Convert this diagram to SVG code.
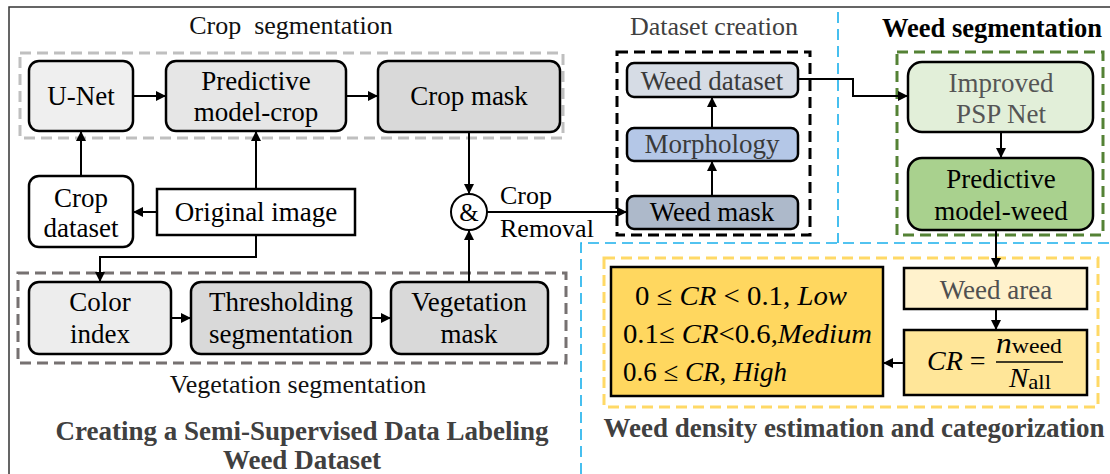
<svg xmlns="http://www.w3.org/2000/svg" width="1110" height="474" viewBox="0 0 1110 474">
  <style>
    text { font-family: "Liberation Serif", "Times New Roman", serif; }
    .lbl { font-size: 27px; fill: #000; text-anchor: middle; }
    .lblg { font-size: 27px; fill: #3a3a3a; text-anchor: middle; }
    .title { font-size: 26px; fill: #111; text-anchor: middle; }
    .titleb { font-size: 27px; font-weight: bold; fill: #404040; text-anchor: middle; }
    .node { stroke: #000; stroke-width: 2.5; }
    .sq { stroke: #000; stroke-width: 2.5; }
    .math { font-size: 27px; fill: #000; }
    .it { font-style: italic; }
    .conn { fill: none; stroke: #000; stroke-width: 2; }
    .dash { fill: none; stroke-width: 3; stroke-dasharray: 11 6; }
    .blue { fill: none; stroke: #1ab0ec; stroke-width: 1.6; stroke-dasharray: 11 6; }
  </style>
  <defs>
    <marker id="arr" viewBox="0 0 10 10" refX="10" refY="5" markerWidth="5" markerHeight="5" markerUnits="strokeWidth" orient="auto">
      <path d="M0,0 L10,5 L0,10 z" fill="#000"/>
    </marker>
  </defs>

  <rect width="1110" height="474" fill="#fff"/>

  <!-- frame -->
  <polyline points="9,474 9,7 1110,7" fill="none" stroke="#333" stroke-width="1.5"/>

  <!-- section dividers -->
  <g id="dividers">
    <line class="blue" x1="838" y1="12" x2="838" y2="243"/>
    <polyline class="blue" points="581,474 581,243 1110,243"/>
  </g>

  <!-- group frames -->
  <g id="frames">
    <rect class="dash" x="20" y="53" width="543" height="85" stroke="#bfbfbf"/>
    <rect class="dash" x="18" y="273" width="548" height="90" stroke="#767171"/>
    <rect class="dash" x="617" y="52" width="193" height="183" stroke="#000"/>
    <rect class="dash" x="897" y="52" width="206" height="183" stroke="#548235"/>
    <rect class="dash" x="604" y="258" width="494" height="149" stroke="#ffd966"/>
  </g>

  <!-- section titles -->
  <g id="titles">
    <text class="title" x="291" y="34">Crop&#160; segmentation</text>
    <text class="title" x="714" y="35" style="fill:#404040">Dataset creation</text>
    <text x="992" y="37" style="font-size:26.5px;font-weight:bold;text-anchor:middle;fill:#000">Weed segmentation</text>
    <text class="title" x="298" y="393">Vegetation segmentation</text>
    <text class="titleb" x="302" y="440">Creating a Semi-Supervised Data Labeling</text>
    <text class="titleb" x="302" y="469">Weed Dataset</text>
    <text class="titleb" x="854" y="437">Weed density estimation and categorization</text>
  </g>

  <!-- connectors -->
  <g id="connectors">
    <line class="conn" x1="133" y1="96" x2="166" y2="96" marker-end="url(#arr)"/>
    <line class="conn" x1="346" y1="96" x2="378" y2="96" marker-end="url(#arr)"/>
    <line class="conn" x1="81" y1="176" x2="81" y2="131" marker-end="url(#arr)"/>
    <line class="conn" x1="256" y1="189" x2="256" y2="131" marker-end="url(#arr)"/>
    <line class="conn" x1="157" y1="212" x2="133" y2="212" marker-end="url(#arr)"/>
    <polyline class="conn" points="256,235 256,257 100,257 100,282" marker-end="url(#arr)"/>
    <line class="conn" x1="171" y1="318" x2="191" y2="318" marker-end="url(#arr)"/>
    <line class="conn" x1="371" y1="318" x2="391" y2="318" marker-end="url(#arr)"/>
    <line class="conn" x1="469" y1="282" x2="469" y2="230" marker-end="url(#arr)"/>
    <line class="conn" x1="469" y1="132" x2="469" y2="194" marker-end="url(#arr)"/>
    <line class="conn" x1="487" y1="212" x2="627" y2="212" marker-end="url(#arr)"/>
    <line class="conn" x1="712" y1="196" x2="712" y2="161" marker-end="url(#arr)"/>
    <line class="conn" x1="712" y1="128" x2="712" y2="97" marker-end="url(#arr)"/>
    <polyline class="conn" points="798,79 853,79 853,96 908,96" marker-end="url(#arr)"/>
    <line class="conn" x1="1001" y1="132" x2="1001" y2="158" marker-end="url(#arr)"/>
    <line class="conn" x1="996" y1="230" x2="996" y2="268" marker-end="url(#arr)"/>
    <line class="conn" x1="996" y1="309" x2="996" y2="330" marker-end="url(#arr)"/>
    <line class="conn" x1="904" y1="363" x2="883" y2="363" marker-end="url(#arr)"/>
    <text x="500" y="204" style="font-size:26px">Crop</text>
    <text x="500" y="237" style="font-size:26px">Removal</text>
  </g>

  <!-- crop segmentation -->
  <g id="unet">
    <rect class="node" x="29" y="61" width="104" height="70" rx="10" fill="#efefef"/>
    <text class="lbl" x="81" y="105">U-Net</text>
  </g>
  <g id="predictive-crop">
    <rect class="node" x="166" y="61" width="180" height="70" rx="10" fill="#e6e6e6"/>
    <text class="lbl" x="256" y="90">Predictive</text>
    <text class="lbl" x="256" y="121">model-crop</text>
  </g>
  <g id="crop-mask">
    <rect class="node" x="378" y="61" width="182" height="71" rx="10" fill="#d9d9d9"/>
    <text class="lbl" x="469" y="105">Crop mask</text>
  </g>
  <g id="crop-dataset">
    <rect class="node" x="29" y="176" width="104" height="71" rx="10" fill="#fff"/>
    <text class="lbl" x="81" y="207">Crop</text>
    <text class="lbl" x="81" y="237">dataset</text>
  </g>
  <g id="original-image">
    <rect class="sq" x="157" y="189" width="198" height="46" fill="#fff"/>
    <text class="lbl" x="256" y="221">Original image</text>
  </g>

  <!-- vegetation segmentation -->
  <g id="color-index">
    <rect class="node" x="29" y="282" width="142" height="72" rx="10" fill="#ededed"/>
    <text class="lbl" x="100" y="311">Color</text>
    <text class="lbl" x="100" y="343">index</text>
  </g>
  <g id="thresholding">
    <rect class="node" x="191" y="282" width="180" height="72" rx="10" fill="#d9d9d9"/>
    <text class="lbl" x="281" y="311">Thresholding</text>
    <text class="lbl" x="281" y="343">segmentation</text>
  </g>
  <g id="vegetation-mask">
    <rect class="node" x="391" y="282" width="157" height="72" rx="10" fill="#d9d9d9"/>
    <text class="lbl" x="469" y="311">Vegetation</text>
    <text class="lbl" x="469" y="343">mask</text>
  </g>

  <!-- combine -->
  <g id="and-op">
    <circle cx="469" cy="212" r="18" fill="#fff" stroke="#000" stroke-width="2"/>
    <text x="469" y="221" style="font-size:25px;text-anchor:middle">&amp;</text>
  </g>

  <!-- dataset creation -->
  <g id="weed-dataset">
    <rect class="node" x="627" y="63" width="171" height="34" rx="7" fill="#d6dce5"/>
    <text class="lblg" x="712" y="90">Weed dataset</text>
  </g>
  <g id="morphology">
    <rect class="node" x="627" y="128" width="171" height="33" rx="7" fill="#b4c7e7"/>
    <text class="lblg" x="712" y="153">Morphology</text>
  </g>
  <g id="weed-mask">
    <rect class="node" x="627" y="196" width="171" height="33" rx="7" fill="#adb9ca"/>
    <text class="lbl" x="712" y="221">Weed mask</text>
  </g>

  <!-- weed segmentation -->
  <g id="psp-net">
    <rect class="node" x="908" y="62" width="185" height="70" rx="14" fill="#e2efd9"/>
    <text class="lblg" x="1001" y="92" style="fill:#555">Improved</text>
    <text class="lblg" x="1001" y="123" style="fill:#555">PSP Net</text>
  </g>
  <g id="predictive-weed">
    <rect class="node" x="908" y="158" width="185" height="72" rx="14" fill="#a9d18e"/>
    <text class="lbl" x="1001" y="188">Predictive</text>
    <text class="lbl" x="1001" y="220">model-weed</text>
  </g>

  <!-- density estimation -->
  <g id="weed-area">
    <rect class="sq" x="904" y="268" width="183" height="41" fill="#fff2cc"/>
    <text class="lblg" x="996" y="299" style="fill:#505050">Weed area</text>
  </g>
  <g id="cr-formula">
    <rect class="sq" x="904" y="330" width="183" height="65" fill="#ffe699"/>
    <text class="math" x="927" y="370" style="font-size:28px"><tspan class="it">CR</tspan> =</text>
    <line x1="996" y1="362" x2="1063" y2="362" stroke="#000" stroke-width="1.6"/>
    <text class="math" x="996" y="353" textLength="66" lengthAdjust="spacingAndGlyphs"><tspan class="it" style="font-size:29px">n</tspan><tspan style="font-size:22px">weed</tspan></text>
    <text class="math" x="1009" y="387" textLength="42" lengthAdjust="spacingAndGlyphs"><tspan class="it" style="font-size:28px">N</tspan><tspan style="font-size:22px" dy="2">all</tspan></text>
  </g>
  <g id="categories">
    <rect class="sq" x="611" y="267" width="272" height="129" fill="#ffd75f"/>
    <text class="math" x="635" y="305" textLength="212" lengthAdjust="spacingAndGlyphs">0 ≤ <tspan class="it">CR</tspan> &lt; 0.1, <tspan class="it">Low</tspan></text>
    <text class="math" x="623" y="343" textLength="249" lengthAdjust="spacingAndGlyphs">0.1≤ <tspan class="it">CR</tspan>&lt;0.6,<tspan class="it">Medium</tspan></text>
    <text class="math" x="623" y="381" textLength="164" lengthAdjust="spacingAndGlyphs">0.6 ≤ <tspan class="it">CR</tspan>, <tspan class="it">High</tspan></text>
  </g>
</svg>
